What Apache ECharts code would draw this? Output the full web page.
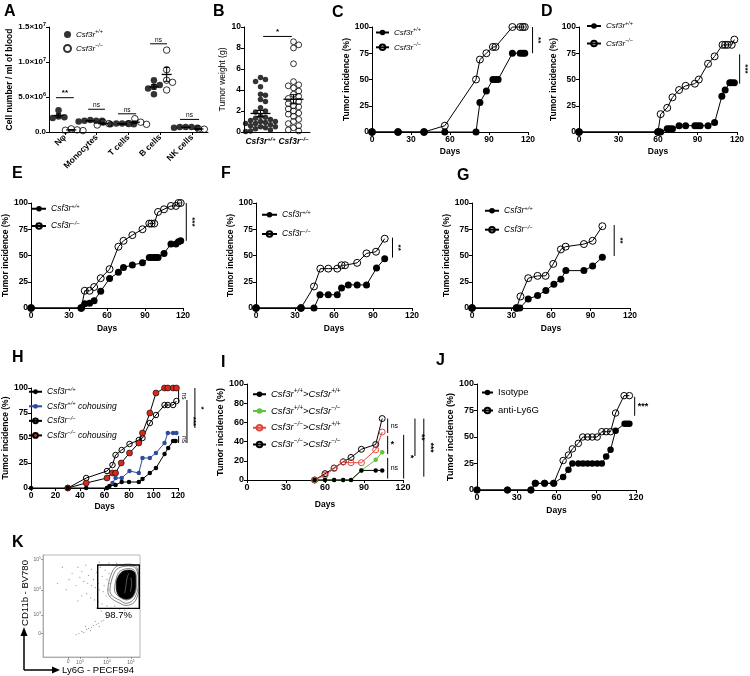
<!DOCTYPE html>
<html><head><meta charset="utf-8">
<script src="https://cdn.jsdelivr.net/npm/echarts@6/dist/echarts.min.js"></script>
<style>html,body{margin:0;padding:0;background:#fff}#c{width:750px;height:676px}</style>
</head><body><div id="c"></div>
<script>
// ================= DATA =================
const A_categories = ['Nφ','Monocytes','T cells','B cells','NK cells'];
const A_WT = [[3.1e6,2.2e6,2.1e6,2.0e6],[1.7e6,1.6e6,1.6e6,1.5e6,1.6e6],[1.2e6,1.1e6,1.2e6,1.1e6,1.2e6],[7.4e6,6.7e6,6.5e6,6.2e6,5.4e6],[0.7e6,0.6e6,0.7e6,0.6e6,0.7e6]];
const A_KO = [[0.45e6,0.3e6,0.2e6,0.25e6],[1.4e6,1.2e6,1.0e6],[1.9e6,1.4e6,1.2e6,1.1e6],[11.7e6,8.9e6,7.4e6,7.1e6,6.0e6],[0.45e6,0.4e6]];
const A_sig = [[0.22,0.78,4.9e6,'**'],[1.23,1.76,3.25e6,'ns'],[2.17,2.74,2.6e6,'ns'],[3.18,3.71,12.6e6,'ns'],[4.12,4.72,1.8e6,'ns']];

const B_categories = ['{b|Csf3r}{s|+/+}','{b|Csf3r}{s|−/−}'];
const B_WT = [5.2,5.0,4.8,4.3,3.6,3.5,3.1,2.9,2.3,2.0,1.9,1.5,1.4,1.3,1.2,1.1,1.0,1.0,0.9,0.8,0.8,0.7,0.6,0.5,0.5,0.4,0.3,0.2,0.1,0.05];
const B_KO = [8.6,8.3,8.0,6.5,4.8,4.5,4.4,4.2,3.9,3.6,3.4,3.2,3.0,2.9,2.7,2.5,2.4,2.2,2.0,1.8,1.7,1.5,1.2,1.0,0.8,0.6,0.4,0.2,0.1];
const B_sig = [[0.58,1.45,9.1,'*']];

const C_WT = [[0,0],[20,0],[40,0],[56,0],[80,0],[83,28],[88,39],[93,50],[95,50],[97,50],[108,75],[114,75],[116,75],[117.5,75]];
const C_KO = [[0,0],[20,0],[40,0],[56,6],[80,50],[83,69],[88,75],[93,81],[95,81],[108,100],[114,100],[116,100],[117.5,100]];
const C_sig = [[123.5,75,100,'**']];

const D_WT = [[0,0],[60,0],[61,0],[62,0],[67,3],[69,3],[71,3],[76,6],[81,6],[88,6],[90,6],[92,6],[98,6],[103,9],[108.5,34],[111,40],[114.5,47],[116,47],[118,47]];
const D_KO = [[0,0],[60,0],[62,17],[67,23],[71,33],[76,40],[81,44],[88,46],[91,50],[98,65],[103,72],[109,83],[111,83],[113,83],[116,83],[118,88]];
const D_sig = [[122,46,74,'***']];

const E_WT = [[0,0],[39.6,0],[42.4,4],[46.2,4.5],[49.8,7],[55,16],[62,28],[69,34],[73,38.5],[80,41],[88,43],[93.4,48],[95.2,48],[97.3,48],[99,48],[100.3,48],[105,52],[110.5,61],[114.4,61],[116.4,63],[118.2,64]];
const E_KO = [[0,0],[39.6,0],[42.4,16.4],[46.2,16.4],[49.8,20],[55,28.4],[62,37],[69,58.4],[73,64],[80,69.4],[88,75],[93.4,80.4],[95.2,80.4],[97.3,80.4],[100.3,91.5],[105,94],[110.5,97.2],[114.4,97.2],[116.4,100],[118.2,100]];
const E_sig = [[122.6,64,100,'***']];

const F_WT = [[0,0],[34.6,0],[44.6,0],[49.2,12.6],[55.6,12.6],[62.5,12.6],[65.8,19],[71,22],[77.8,22],[85,22],[92.7,38],[99,47]];
const F_KO = [[0,0],[34.6,0],[44.6,20.5],[49.5,37.5],[55.6,37.5],[62.5,37.5],[65.8,40.7],[68.5,40.7],[77.8,43],[85,52],[92.3,53.6],[99,66]];
const F_sig = [[105,48,67,'**']];

const G_WT = [[0,0],[33.8,0],[36.3,0],[42.7,8.5],[49.8,12],[56.1,16.7],[62.2,22.7],[67.5,27.4],[71.3,35.6],[85,35.6],[91.6,40],[99,48.3]];
const G_KO = [[0,0],[33.8,0],[36.8,11],[42.7,28.4],[49.8,30.6],[55.9,30.6],[61.7,42],[67.5,55.8],[71.1,58.4],[85,60.9],[91.6,64],[99,77.9]];
const G_sig = [[108,49.5,79,'**']];

const H_WT = [[0,0],[30,0],[45,0],[62,0],[64,2],[69,3],[74,6],[80,6],[88,6],[91,9],[97,15],[102,20],[109,34],[112,40],[116,47],[118,47]];
const H_WTc = [[62,0],[66.5,5],[69,10],[74,10],[80.4,17],[88,15],[91,30],[97,30],[102,35],[109,45],[111.7,55],[116,55],[118.7,55]];
const H_KO = [[30,0],[45,10],[62,17],[66.5,23],[69,33],[74,38],[80.4,44],[88,48],[91,50],[97,65],[102,73],[109,83],[111.7,83],[116,83],[118.7,87]];
const H_KOc = [[30,0],[45,5],[62,10],[66.5,15],[69,15],[73.6,25],[80.4,35],[88,45],[91,55],[97,75],[102,95],[109,100],[111.7,100],[116,100],[118.7,100]];
const H_sig = [[120.5,85,99,'ns'],[120.5,45,52,'ns'],[127.3,45,88,'***'],[133.8,60,100,'*']];

const I_WTWT = [[52,0],[60,0],[67,0],[74,0],[80,0],[88,10],[99,10],[104,10]];
const I_WTKO = [[52,0],[60,0],[67,0],[74,0],[80,0],[88,10],[99,21],[104,29]];
const I_KOWT = [[52,0],[60,5],[67,12],[74,18.7],[80,18],[88,18],[99,31.5],[104,50]];
const I_KOKO = [[52,0],[60,6.6],[67,12.5],[74,19],[80,23.5],[88,32],[99,37],[104,64]];
const I_sig = [[108.2,49,64,'ns'],[108.2,27,46,'*'],[108.2,1.5,23,'ns'],[120.5,1.5,47,'*'],[129.2,25,64,'**'],[136,3.5,64,'***']];

const J_iso = [[0,0],[23,0],[40.7,0],[44,6.3],[51,6.3],[57.9,6.3],[65,12.3],[69,19],[72,25],[76.5,25],[80,25],[83.5,25],[87,25],[90.7,25],[94.2,25],[97.5,31.5],[100.8,38],[104.6,56],[111.4,62.5],[113.2,62.5],[115,62.5]];
const J_anti = [[0,0],[23,0],[40.7,0],[44,6.3],[51,6.3],[57.9,6.3],[65,27.8],[69,33],[72,38.8],[76.5,44],[79.8,50],[83.5,50],[87,50],[90.7,50],[94.2,55],[97.5,55],[100.8,55],[104.6,72.6],[111,89],[115,89]];
const J_sig = [[119,70,88,'***']];

const K_xTickPos = [26,38,66,90.7];
const K_xTickLabels = ['0','{t|10}{u|3}','{t|10}{u|4}','{t|10}{u|5}'];
const K_yTickPos = [23.2,41.2,65.7,95.8];
const K_yTickLabels = ['0','{t|10}{u|3}','{t|10}{u|4}','{t|10}{u|5}'];
const K_gate = [[56.4,47.7],[99.3,90.2]];
const K_gateText = '98.7%';
const K_contourOuter2 = [[67,63],[68.5,76],[74.5,88],[85.6,91],[95.5,89.5],[99,79],[98.8,64.5],[94,53.5],[85.6,50.5],[77.5,53.5],[70.5,57.5]];
const K_contourOuter = [[69.1,64],[70.8,75.5],[76,86],[85.6,89.2],[94.8,87.9],[98.2,78.8],[97.6,65.7],[93.1,55.9],[85.6,52.6],[78.7,55.9],[72.5,59.1]];
const K_contourMid = [[73.7,65.7],[75.1,75.5],[78.7,83.6],[86.3,86.6],[93.8,85.3],[96.6,77.1],[95.9,65.7],[92.1,58.2],[85.6,55.9],[79.4,58.5],[75.3,61.8]];
const K_contourCore = [[75.6,67.3],[76.3,76.1],[81,83.2],[88.7,85.2],[94.3,83],[95.6,75.5],[95,65.7],[91.5,58.6],[85.2,56.8],[79,59.2],[76.5,63]];
const K_streak1 = [[84.2,62.4],[85.6,70.6],[87,78.8],[88.7,82]];
const K_streak2 = [[90.1,64.1],[91.4,72.2],[90.5,78]];
const K_events = [[36,88],[40,84],[44,90],[47,80],[50,86],[52,76],[55,83],[57,72],[59,88],[61,79],[63,70],[64,85],[66,76],[67,66],[68,82],[69,72],[70,60],[65,60],[62,64],[58,66],[54,68],[50,70],[46,72],[42,74],[38,78],[34,70],[30,82],[27,76],[24,66],[20,88],[15,72],[45,62],[49,58],[53,56],[57,54],[61,52],[66,50],[70,48],[74,50],[79,47],[84,46],[88,48],[60,45],[55,48],[40,60],[36,55],[72,90],[76,92],[58,93],[68,92],
  [34,22],[37,23],[40,25],[42,24],[45,27],[47,28],[50,29],[52,31],[55,32],[57,33],[60,35],[62,36],[44,30],[49,26],[54,35],[58,30]];

// ================= LAYOUT / STYLE =================
const FF = "'Liberation Sans', Arial, sans-serif";
const L = {
  A:{left:49,top:27,width:159,height:105},
  B:{left:244,top:27,width:66,height:105},
  C:{left:372,top:27,width:156,height:105},
  D:{left:579,top:27,width:158,height:105},
  E:{left:26,top:203,width:157,height:105},
  F:{left:256,top:203,width:156,height:105},
  G:{left:472,top:203,width:158,height:105},
  H:{left:25,top:388,width:153,height:100},
  I:{left:247,top:384,width:156,height:96},
  J:{left:477,top:384,width:159,height:106},
  K:{left:43,top:555,width:97,height:102}
};
const order = ['A','B','C','D','E','F','G','H','I','J','K'];
const gi = {}; order.forEach((k,i)=>gi[k]=i);

function rich(size, bold, italic){
  const fw = bold?'bold':'normal', fs = italic?'italic':'normal';
  return {
    i:{fontFamily:FF,fontSize:size,fontWeight:fw,fontStyle:fs,color:'#000',lineHeight:size+3},
    b:{fontFamily:FF,fontSize:size,fontWeight:'bold',fontStyle:'italic',color:'#000',lineHeight:size+3},
    s:{fontFamily:FF,fontSize:size*0.68,fontWeight:fw,fontStyle:fs,color:'#000',lineHeight:size*0.68,verticalAlign:'top'},
    n:{fontFamily:FF,fontSize:size,color:'#000',lineHeight:size+3},
    a:{fontFamily:FF,fontSize:size,fontWeight:'bold',color:'#000',lineHeight:size+3},
    t:{fontFamily:FF,fontSize:size,color:'#666',lineHeight:size+2},
    u:{fontFamily:FF,fontSize:size*0.7,color:'#666',lineHeight:size*0.7,verticalAlign:'top'}
  };
}
const WT = '{i|Csf3r}{s|+/+}', KO = '{i|Csf3r}{s|−/−}';
const NAMES = {
  A_WT:WT, A_KO:KO, C_WT:WT, C_KO:KO, D_WT:WT, D_KO:KO, E_WT:WT, E_KO:KO, F_WT:WT, F_KO:KO, G_WT:WT, G_KO:KO,
  H_WT:WT, H_WTc:WT+'{i| cohousing}', H_KO:KO, H_KOc:KO+'{i| cohousing}',
  I_WTWT:'{i|Csf3r}{s|+/+}{i|>Csf3r}{s|+/+}', I_WTKO:'{i|Csf3r}{s|+/+}{i|>Csf3r}{s|−/−}',
  I_KOWT:'{i|Csf3r}{s|−/−}{i|>Csf3r}{s|+/+}', I_KOKO:'{i|Csf3r}{s|−/−}{i|>Csf3r}{s|−/−}',
  J_iso:'{n|Isotype}', J_anti:'{n|anti-Ly6G}'
};

function axBase(size){
  return {
    axisLine:{show:true,onZero:false,lineStyle:{color:'#000',width:1}},
    axisTick:{show:true,length:3,lineStyle:{color:'#000',width:1}},
    axisLabel:{color:'#000',fontFamily:FF,fontWeight:'bold',fontSize:size,margin:3},
    splitLine:{show:false}
  };
}
function xDays(k, max, interval, gap, size){
  return Object.assign(axBase(size||8.5), {gridIndex:gi[k],type:'value',min:0,max:max,interval:interval,
    name:'Days',nameLocation:'middle',nameGap:gap,nameTextStyle:{fontFamily:FF,fontWeight:'bold',fontSize:8.5,color:'#000'}});
}
function yPct(k, interval, gap, size){
  return Object.assign(axBase(size||8.5), {gridIndex:gi[k],type:'value',min:0,max:100,interval:interval,
    name:'Tumor incidence (%)',nameLocation:'middle',nameGap:gap,nameTextStyle:{fontFamily:FF,fontWeight:'bold',fontSize:size||8.5,color:'#000'}});
}

// beeswarm layout (positions only)
function swarm(vals, cx, pxX, pxY, d){
  const placed = [], res = new Array(vals.length);
  const idx = vals.map((v,i)=>i).sort((a,b)=>vals[b]-vals[a]);
  idx.forEach(i=>{
    const y = vals[i]*pxY;
    for(let k=0;k<60;k++){
      const x = (k===0?0:(k%2?1:-1)*Math.ceil(k/2))*d*0.45;
      if(placed.every(p=>(p[0]-x)*(p[0]-x)+(p[1]-y)*(p[1]-y) >= d*d*0.8)){placed.push([x,y]);res[i]=[cx+x/pxX, vals[i]];break;}
    }
  });
  return res;
}
function stats(v){const n=v.length, m=v.reduce((a,b)=>a+b,0)/n; const sd=Math.sqrt(v.reduce((a,b)=>a+(b-m)*(b-m),0)/(n-1)); return [m, sd/Math.sqrt(n)];}

const filled = (sz)=>({symbol:'circle',symbolSize:sz,itemStyle:{color:'#000'},lineStyle:{color:'#000',width:1}});
const open = (sz)=>({symbol:'circle',symbolSize:sz,itemStyle:{color:'rgba(255,255,255,0)',borderColor:'#000',borderWidth:1},lineStyle:{color:'#000',width:1}});
function lineS(name,k,data,sty){return Object.assign({type:'line',name:name,xAxisIndex:gi[k],yAxisIndex:gi[k],data:data,showAllSymbol:true,silent:true,animation:false,clip:false,z:3},sty);}

// ================= BUILD =================
const grid = order.map(k=>Object.assign({containLabel:false},L[k]));
grid[gi.K].show = true; grid[gi.K].borderColor = '#999'; grid[gi.K].borderWidth = 0.7;

const xAxis = [], yAxis = [];
// A
xAxis.push(Object.assign(axBase(8.5),{gridIndex:0,type:'value',min:0,max:5,interval:1,
  axisTick:{show:true,length:3,customValues:[0.5,1.5,2.5,3.5,4.5],lineStyle:{color:'#000'}},
  axisLabel:{customValues:[0.5,1.5,2.5,3.5,4.5],rotate:45,margin:4,color:'#000',fontFamily:FF,fontWeight:'bold',fontSize:8.5,formatter:v=>A_categories[Math.floor(v)]}}));
yAxis.push(Object.assign(axBase(8.5),{gridIndex:0,type:'value',min:0,max:1.5e7,interval:5e6,
  name:'Cell number / ml of blood',nameLocation:'middle',nameGap:34,nameTextStyle:{fontFamily:FF,fontWeight:'bold',fontSize:8.5,color:'#000'},
  axisLabel:{margin:3,formatter:v=>{if(v===0)return '{a|0.0}';const e=Math.floor(Math.log10(v)+1e-9);return '{a|'+(v/Math.pow(10,e)).toFixed(1)+'×10}{s|'+e+'}';},rich:rich(8,true,false)}}));
// B
xAxis.push(Object.assign(axBase(8.5),{gridIndex:1,type:'value',min:0,max:2,interval:1,
  axisTick:{show:false},
  axisLabel:{customValues:[0.5,1.5],margin:4,formatter:v=>B_categories[Math.floor(v)],rich:rich(8.5,true,true)}}));
yAxis.push(Object.assign(axBase(8.5),{gridIndex:1,type:'value',min:0,max:10,interval:2,
  name:'Tumor weight (g)',nameLocation:'middle',nameGap:14,nameTextStyle:{fontFamily:FF,fontSize:8.5,color:'#000'}}));
// C..G
xAxis.push(xDays('C',120,30,15)); yAxis.push(yPct('C',25,15));
xAxis.push(xDays('D',120,30,15)); yAxis.push(yPct('D',25,17));
xAxis.push(xDays('E',120,30,16)); yAxis.push(yPct('E',25,16));
xAxis.push(xDays('F',120,30,16)); yAxis.push(yPct('F',25,16.5));
xAxis.push(xDays('G',120,30,16)); yAxis.push(yPct('G',25,17));
// H, I, J
xAxis.push(xDays('H',120,20,14)); yAxis.push(yPct('H',25,14));
xAxis.push(xDays('I',120,30,20,9)); yAxis.push(yPct('I',20,16,9));
xAxis.push(xDays('J',120,30,16,9)); yAxis.push(yPct('J',25,13,9));
// K
const kAx = (pos, labels)=>({gridIndex:gi.K,type:'value',min:0,max:100,
  axisLine:{show:true,onZero:false,lineStyle:{color:'#999',width:0.7}},
  axisTick:{show:true,length:2,customValues:pos,lineStyle:{color:'#777',width:0.7}},
  axisLabel:{customValues:pos,margin:2,formatter:v=>labels[pos.indexOf(v)],rich:rich(5,false,false),color:'#666',fontSize:5,fontFamily:FF},
  splitLine:{show:false}});
xAxis.push(kAx(K_xTickPos,K_xTickLabels));
yAxis.push(kAx(K_yTickPos,K_yTickLabels));

const series = [];
// A scatter
const pxAX = L.A.width/5, pxAY = L.A.height/1.5e7;
const aWTpts = [], aKOpts = [], aErr = [];
A_categories.forEach((c,i)=>{
  swarm(A_WT[i], i+0.5-0.2, pxAX, pxAY, 6.5).forEach(p=>aWTpts.push(p));
  swarm(A_KO[i], i+0.5+0.2, pxAX, pxAY, 6.5).forEach(p=>aKOpts.push(p));
  const s1=stats(A_WT[i]), s2=stats(A_KO[i]);
  aErr.push([i+0.5-0.2, s1[0], s1[0]-s1[1], s1[0]+s1[1]]);
  aErr.push([i+0.5+0.2, s2[0], s2[0]-s2[1], s2[0]+s2[1]]);
});
series.push({type:'scatter',name:'A_WT',xAxisIndex:0,yAxisIndex:0,data:aWTpts,symbolSize:6.5,itemStyle:{color:'#000'},silent:true,animation:false});
series.push({type:'scatter',name:'A_KO',xAxisIndex:0,yAxisIndex:0,data:aKOpts,symbolSize:6.5,itemStyle:{color:'rgba(255,255,255,0)',borderColor:'#000',borderWidth:1},silent:true,animation:false});
function errSeries(ax, data, hw, cw){
  return {type:'custom',xAxisIndex:ax,yAxisIndex:ax,data:data,silent:true,animation:false,z:5,
    renderItem:(p,api)=>{
      const cx=api.value(0), m=api.value(1), lo=api.value(2), hi=api.value(3);
      const pm=api.coord([cx,m]), pl=api.coord([cx,lo]), ph=api.coord([cx,hi]);
      const st={stroke:'#000',lineWidth:1};
      return {type:'group',children:[
        {type:'line',shape:{x1:pm[0]-hw,y1:pm[1],x2:pm[0]+hw,y2:pm[1]},style:{stroke:'#000',lineWidth:1.3}},
        {type:'line',shape:{x1:pl[0],y1:pl[1],x2:ph[0],y2:ph[1]},style:st},
        {type:'line',shape:{x1:pl[0]-cw,y1:pl[1],x2:pl[0]+cw,y2:pl[1]},style:st},
        {type:'line',shape:{x1:ph[0]-cw,y1:ph[1],x2:ph[0]+cw,y2:ph[1]},style:st}]};
    }};
}
series.push(errSeries(0, aErr, 5, 2.5));
// B scatter
const pxBX = L.B.width/2, pxBY = L.B.height/10;
const sB1 = stats(B_WT), sB2 = stats(B_KO);
series.push({type:'scatter',name:'B_WT',xAxisIndex:1,yAxisIndex:1,data:swarm(B_WT,0.5,pxBX,pxBY,5.5),symbolSize:5.5,itemStyle:{color:'#000'},silent:true,animation:false});
series.push({type:'scatter',name:'B_KO',xAxisIndex:1,yAxisIndex:1,data:swarm(B_KO,1.5,pxBX,pxBY,5.8),symbolSize:5.8,itemStyle:{color:'rgba(255,255,255,0)',borderColor:'#000',borderWidth:1},silent:true,animation:false});
series.push(errSeries(1, [[0.5,sB1[0],sB1[0]-sB1[1],sB1[0]+sB1[1]],[1.5,sB2[0],sB2[0]-sB2[1],sB2[0]+sB2[1]]], 10, 4));
// C..G
[['C',C_WT,C_KO],['D',D_WT,D_KO],['E',E_WT,E_KO],['F',F_WT,F_KO],['G',G_WT,G_KO]].forEach(([k,w,o])=>{
  series.push(lineS(k+'_KO',k,o,open(7)));
  series.push(lineS(k+'_WT',k,w,filled(7)));
});
// H
series.push(lineS('H_KO','H',H_KO,open(5.5)));
series.push(lineS('H_KOc','H',H_KOc,{symbol:'circle',symbolSize:6,itemStyle:{color:'#d52b1e',borderColor:'#000',borderWidth:0.6},lineStyle:{color:'#000',width:1}}));
series.push(lineS('H_WTc','H',H_WTc,{symbol:'circle',symbolSize:4.5,itemStyle:{color:'#2f4b9c'},lineStyle:{color:'#2f4b9c',width:1}}));
series.push(lineS('H_WT','H',H_WT,filled(4.5)));
// I
series.push(lineS('I_KOKO','I',I_KOKO,open(6)));
series.push(lineS('I_KOWT','I',I_KOWT,{symbol:'circle',symbolSize:6,itemStyle:{color:'rgba(255,255,255,0)',borderColor:'#e2463c',borderWidth:1},lineStyle:{color:'#e2463c',width:1}}));
series.push(lineS('I_WTKO','I',I_WTKO,{symbol:'circle',symbolSize:4.5,itemStyle:{color:'#5cc43a'},lineStyle:{color:'#5cc43a',width:1}}));
series.push(lineS('I_WTWT','I',I_WTWT,filled(4.5)));
// J
series.push(lineS('J_anti','J',J_anti,open(6.5)));
series.push(lineS('J_iso','J',J_iso,filled(6.5)));
// K events and gate
series.push({type:'scatter',xAxisIndex:gi.K,yAxisIndex:gi.K,data:K_events,symbolSize:1.3,itemStyle:{color:'#888'},silent:true,animation:false});
series.push({type:'custom',xAxisIndex:gi.K,yAxisIndex:gi.K,data:[K_gate[0]],silent:true,animation:false,z:7,
  renderItem:(p,api)=>{const a=api.coord(K_gate[0]), b=api.coord(K_gate[1]);
    return {type:'group',children:[
      {type:'rect',shape:{x:a[0],y:b[1],width:b[0]-a[0],height:a[1]-b[1]},style:{fill:'rgba(0,0,0,0)',stroke:'#000',lineWidth:1.4}},
      {type:'text',style:{x:(a[0]+b[0])/2,y:a[1]+2,text:K_gateText,fill:'#000',font:'9.5px '+FF,align:'center',verticalAlign:'top',textAlign:'center',textVerticalAlign:'top'}}]};}});

// legends
function leg(names, left, top, iw, ih, gap, size, italic){
  return {show:true,left:left,top:top,orient:'vertical',itemWidth:iw,itemHeight:ih,itemGap:gap,selectedMode:false,data:names,
    padding:0,formatter:n=>NAMES[n],textStyle:{fontFamily:FF,fontSize:size,rich:rich(size,false,italic)}};
}
const legend = [
  leg(['A_WT','A_KO'],63,29,7,7,4.5,8,true),
  leg(['C_WT','C_KO'],375,27,13,7,5.3,8,true),
  leg(['D_WT','D_KO'],586,20.5,14,7,8,8,true),
  leg(['E_WT','E_KO'],31,203,14,7,7,8.5,true),
  leg(['F_WT','F_KO'],261,209,15,7,9,8.5,true),
  leg(['G_WT','G_KO'],484,205,14,7,8.7,8.5,true),
  leg(['H_WT','H_WTc','H_KO','H_KOc'],28,386,13,6,4.3,8.5,true),
  leg(['I_WTWT','I_WTKO','I_KOWT','I_KOKO'],252,388,13,7,5.5,9.5,true),
  leg(['J_iso','J_anti'],481,387.5,11,7,8,9.5,false)
];

const chart = echarts.init(document.getElementById('c'), null, {renderer:'canvas',width:750,height:676});
chart.setOption({animation:false,backgroundColor:'#fff',textStyle:{fontFamily:FF},grid,xAxis,yAxis,series,legend});

// ================= ANNOTATIONS =================
const els = [];
const letters = [['A',4,4],['B',213,4],['C',332,5],['D',541,4],['E',12,166],['F',221,166],['G',457,168],['H',12,350],['I',221,355],['J',436,353],['K',12,535]];
letters.forEach(([t,x,y])=>els.push({type:'text',left:x,top:y,style:{text:t,font:'bold 16px '+FF,fill:'#000'}}));
const pix = (k,pt)=>chart.convertToPixel({xAxisIndex:gi[k],yAxisIndex:gi[k]},pt);
function hbar(k, s, font){
  const p1=pix(k,[s[0],s[2]]), p2=pix(k,[s[1],s[2]]);
  els.push({type:'line',shape:{x1:p1[0],y1:p1[1],x2:p2[0],y2:p2[1]},style:{stroke:'#000',lineWidth:1}});
  els.push({type:'text',x:(p1[0]+p2[0])/2,y:p1[1]-0.5,style:{x:0,y:0,text:s[3],font:font,fill:'#000',align:'center',verticalAlign:'bottom',textAlign:'center',textVerticalAlign:'bottom'}});
}
function vbar(k, s, rot, font){
  const p1=pix(k,[s[0],s[1]]), p2=pix(k,[s[0],s[2]]);
  els.push({type:'line',shape:{x1:p1[0],y1:p1[1],x2:p2[0],y2:p2[1]},style:{stroke:'#000',lineWidth:1}});
  const my=(p1[1]+p2[1])/2;
  if(rot) els.push({type:'text',x:p1[0]+2,y:my,rotation:-Math.PI/2,style:{x:0,y:0,text:s[3],font:font,fill:'#000',align:'center',verticalAlign:'bottom',textAlign:'center',textVerticalAlign:'bottom'}});
  else els.push({type:'text',x:p1[0]+3,y:my,style:{x:0,y:0,text:s[3],font:font,fill:'#000',align:'left',verticalAlign:'middle',textAlign:'left',textVerticalAlign:'middle'}});
}
const fStar='bold 8px '+FF, fNs='6.5px '+FF;
A_sig.forEach(s=>hbar('A',s,s[3]==='ns'?fNs:fStar));
B_sig.forEach(s=>hbar('B',s,fStar));
[['C',C_sig],['D',D_sig],['E',E_sig],['F',F_sig],['G',G_sig],['H',H_sig]].forEach(([k,arr])=>arr.forEach(s=>vbar(k,s,true,s[3]==='ns'?fNs:fStar)));
I_sig.forEach(s=>vbar('I',s,s[0]>110,s[3]==='ns'?'7px '+FF:'bold 8.5px '+FF));
J_sig.forEach(s=>vbar('J',s,false,'bold 9px '+FF));
// K contours (data-space polygons mapped through the K axes)
const K_rings = [K_contourOuter2,K_contourOuter,K_contourMid];
K_rings.forEach(poly=>{
  els.push({type:'polygon',z:5,shape:{points:poly.map(q=>pix('K',q)),smooth:0.3},style:{fill:null,stroke:'#333',lineWidth:0.6}});
});
els.push({type:'polygon',z:6,shape:{points:K_contourCore.map(q=>pix('K',q)),smooth:0.3},style:{fill:'#000',stroke:'#000',lineWidth:0.8}});
[K_streak1,K_streak2].forEach(line=>{
  els.push({type:'polyline',z:7,shape:{points:line.map(q=>pix('K',q)),smooth:0.4},style:{fill:null,stroke:'#aaa',lineWidth:0.5}});
});
// K axis titles and arrows
els.push({type:'line',shape:{x1:24,y1:670,x2:24,y2:634},style:{stroke:'#000',lineWidth:1.5}});
els.push({type:'polygon',shape:{points:[[24,627],[20.5,636],[27.5,636]]},style:{fill:'#000'}});
els.push({type:'line',shape:{x1:24,y1:670,x2:53,y2:670},style:{stroke:'#000',lineWidth:1.5}});
els.push({type:'polygon',shape:{points:[[60,670],[52,666.5],[52,673.5]]},style:{fill:'#000'}});
els.push({type:'text',x:25.5,y:593,rotation:Math.PI/2,style:{x:0,y:0,text:'CD11b - BV780',font:'9.5px '+FF,fill:'#000',align:'center',verticalAlign:'middle',textAlign:'center',textVerticalAlign:'middle'}});
els.push({type:'text',x:62,y:670,style:{x:0,y:0,text:'Ly6G - PECF594',font:'9.5px '+FF,fill:'#000',align:'left',verticalAlign:'middle',textAlign:'left',textVerticalAlign:'middle'}});
chart.setOption({graphic:{elements:els}});
</script></body></html>
